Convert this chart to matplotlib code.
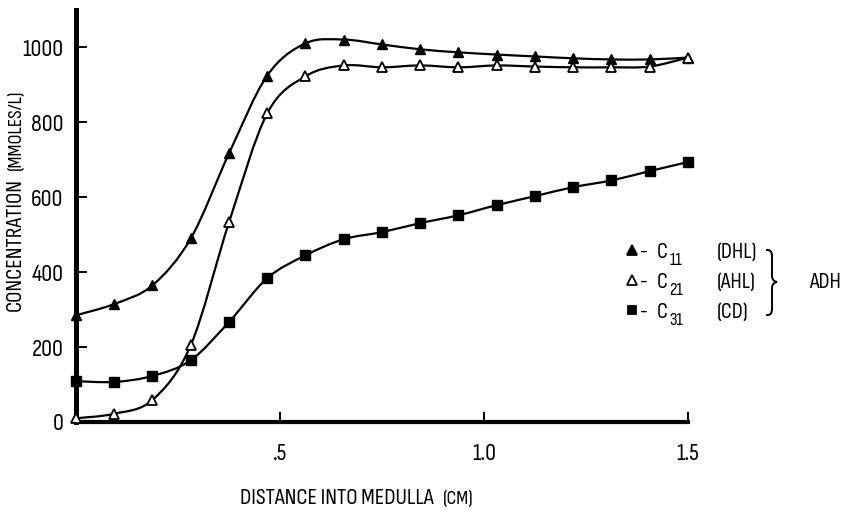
import numpy as np
import matplotlib
matplotlib.use("Agg")
import matplotlib.pyplot as plt
from matplotlib import font_manager as fm
from matplotlib.path import Path
from matplotlib.patches import PathPatch

# distance into medulla (cm), 17 stations
distance = [i * 1.5 / 16 for i in range(17)]

c11_dhl = [285, 315, 365, 490, 717, 925, 1011, 1021, 1008, 995, 987,
           981, 976, 971, 968, 968, 973]
c21_ahl = [10, 22, 59, 205, 533, 824, 923, 952, 947, 952, 947,
           952, 949, 947, 947, 949, 973]
c31_cd = [109, 107, 123, 165, 267, 384, 445, 488, 507, 531, 552,
          579, 603, 627, 645, 670, 694]

yticks = [0, 200, 400, 600, 800, 1000]
xticks = [0.5, 1.0, 1.5]
xticklabels = ['.5', '1.0', '1.5']

W, H = 845, 513


def narrow_font():
    # look for any condensed / narrow face among the installed fonts
    best = None
    for f in fm.fontManager.ttflist:
        name = f.name.lower()
        tag = (str(f.stretch).lower() + ' ' + name + ' '
               + f.fname.lower())
        if f.style != 'normal' or f.weight not in (400, 'normal', 'regular'):
            continue
        if 'condensed' in tag or 'narrow' in tag:
            if 'extra' in tag or 'ultra' in tag or 'semi' in tag:
                continue
            if best is None or 'sans' in name:
                best = f
    if best is None:
        return fm.FontProperties(family='DejaVu Sans'), False
    return fm.FontProperties(fname=best.fname), True


FP, IS_NARROW = narrow_font()
K = 1.0 if IS_NARROW else 0.8   # shrink wide fallback text


def font(size):
    p = FP.copy()
    p.set_size(size * K)
    return p


def smooth_path(x, y):
    # Catmull-Rom segments turned into cubic Bezier pieces
    pts = np.column_stack([x, y]).astype(float)
    n = len(pts)
    verts = [pts[0]]
    codes = [Path.MOVETO]
    for i in range(n - 1):
        p0 = pts[max(i - 1, 0)]
        p1 = pts[i]
        p2 = pts[i + 1]
        p3 = pts[min(i + 2, n - 1)]
        c1 = p1 + (p2 - p0) / 6.0
        c2 = p2 - (p3 - p1) / 6.0
        verts += [c1, c2, p2]
        codes += [Path.CURVE4] * 3
    return Path(verts, codes)


def px(x, y):
    return x / W, 1 - y / H


fig = plt.figure(figsize=(W / 100, H / 100), dpi=100)
ax = fig.add_axes([76 / W, (H - 422) / H, 612 / W, 412 / H])
ax.set_xlim(0, 1.5)
ax.set_ylim(0, 1100)

for ys in (c11_dhl, c21_ahl, c31_cd):
    ax.add_patch(PathPatch(smooth_path(distance, ys), fill=False,
                           lw=1.6, ec='black', clip_on=False, zorder=2))

ax.plot(distance, c11_dhl, ls='none', marker='^', ms=7.5, mfc='black',
        mec='black', clip_on=False, zorder=3)
ax.plot(distance, c21_ahl, ls='none', marker='^', ms=7.5, mfc='white',
        mec='black', mew=1.3, clip_on=False, zorder=3)
ax.plot(distance, c31_cd, ls='none', marker='s', ms=6.5, mfc='black',
        mec='black', clip_on=False, zorder=3)

for s in ('top', 'right'):
    ax.spines[s].set_visible(False)
ax.spines['left'].set_linewidth(3.6)
ax.spines['bottom'].set_linewidth(3.0)

ax.set_yticks(yticks)
ax.set_yticklabels([str(v) for v in yticks], fontproperties=font(17.5))
ax.set_xticks(xticks)
ax.set_xticklabels(xticklabels, fontproperties=font(17.5))
ax.tick_params(axis='y', direction='in', length=8, width=1.4, pad=9)
ax.tick_params(axis='x', direction='in', length=7, width=1.4, pad=15)

# axis titles
fig.text(*px(15, 178), 'CONCENTRATION', rotation=90, ha='center',
         va='top', fontproperties=font(16.5))
fig.text(*px(16, 170), '(MMOLES/L)', rotation=90, ha='center',
         va='bottom', fontproperties=font(14.5))
fig.text(*px(434, 498), 'DISTANCE INTO MEDULLA', ha='right', va='center',
         fontproperties=font(16.5))
fig.text(*px(443, 499), '(CM)', ha='left', va='center',
         fontproperties=font(14.5))

# key
rows = [(252, '^', 'black', '11', '(DHL)'),
        (282, '^', 'white', '21', '(AHL)'),
        (312, 's', 'black', '31', '(CD)')]
for y, mk, fc, sub, name in rows:
    fig.lines.append(plt.Line2D([632 / W], [1 - (y - 2) / H], marker=mk,
                                ms=7 if mk == '^' else 6, mfc=fc, mec='black',
                                mew=1.3, ls='none', transform=fig.transFigure))
    fig.text(*px(640, y), '-', ha='left', va='center', fontproperties=font(15))
    c = fig.text(*px(657, y), 'C', ha='left', va='center',
                 fontproperties=font(16))
    ax.annotate(sub, xy=(1.0, 0.0), xycoords=c, xytext=(1, -4.5),
                textcoords='offset points', ha='left', va='bottom',
                fontproperties=font(13), annotation_clip=False)
    fig.text(*px(717, y), name, ha='left', va='center',
             fontproperties=font(16))

# curly brace tying the three together
bx, top, mid, bot = 771, 250, 282, 315
brace = [(bx - 5, top), (bx + 1, top - 1), (bx + 1, top + 6),
         (bx + 1, mid - 6), (bx + 1, mid - 1), (bx + 6, mid),
         (bx + 1, mid + 1), (bx + 1, mid + 6),
         (bx + 1, bot - 6), (bx + 1, bot + 1), (bx - 5, bot)]
codes = [Path.MOVETO, Path.CURVE3, Path.CURVE3, Path.LINETO,
         Path.CURVE3, Path.CURVE3, Path.CURVE3, Path.CURVE3,
         Path.LINETO, Path.CURVE3, Path.CURVE3]
brace_path = Path([px(a, b) for a, b in brace], codes)
fig.patches.append(PathPatch(brace_path, fill=False, lw=1.4, ec='black',
                             transform=fig.transFigure))
fig.text(*px(809, 283), 'ADH', ha='left', va='center', fontproperties=font(16))

fig.savefig('out.png', dpi=100)
